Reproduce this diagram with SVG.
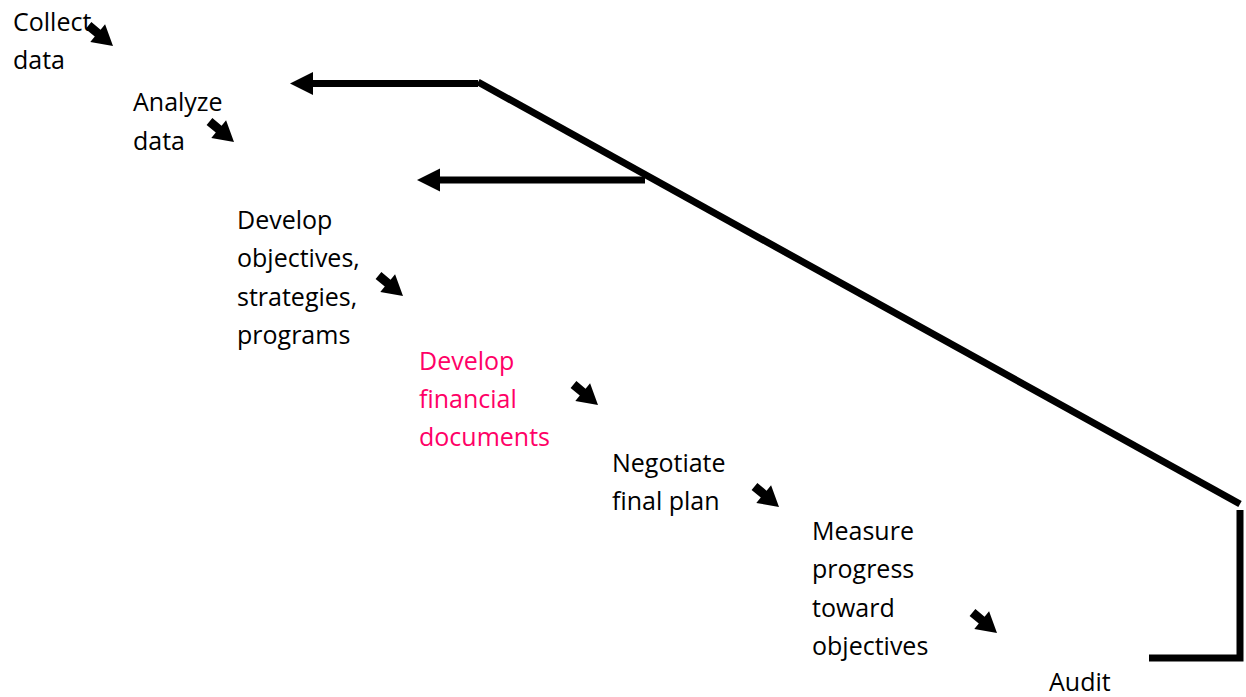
<svg xmlns="http://www.w3.org/2000/svg" width="1246" height="697" viewBox="0 0 1246 697">
<style>
.t{font-family:"Open Sans","Liberation Sans",sans-serif;font-size:25px;fill:#000}
.p{fill:#FF0066}
.ln{stroke:#000;stroke-width:7;fill:none;stroke-linecap:butt}
.ah{fill:#000}
</style>
<defs>
<path id="sa" d="M-32,-4.5 L-20,-4.5 L-20,-11.5 L0,0 L-20,11.5 L-20,4.5 L-32,4.5 Z"/>
</defs>
<rect width="1246" height="697" fill="#fff"/>
<g id="n1"><text class="t" x="13" y="31">Collect</text><text class="t" x="13" y="69">data</text></g>
<g id="n2"><text class="t" x="133" y="111">Analyze</text><text class="t" x="133" y="150">data</text></g>
<g id="n3"><text class="t" x="237" y="229">Develop</text><text class="t" x="237" y="267">objectives,</text><text class="t" x="237" y="306">strategies,</text><text class="t" x="237" y="344">programs</text></g>
<g id="n4"><text class="t p" x="419" y="370">Develop</text><text class="t p" x="419" y="408">financial</text><text class="t p" x="419" y="446">documents</text></g>
<g id="n5"><text class="t" x="612" y="472">Negotiate</text><text class="t" x="612" y="510">final plan</text></g>
<g id="n6"><text class="t" x="812" y="540">Measure</text><text class="t" x="812" y="578">progress</text><text class="t" x="812" y="617">toward</text><text class="t" x="812" y="655">objectives</text></g>
<g id="n7"><text class="t" x="1049" y="691">Audit</text></g>
<g id="connectors">
<use href="#sa" class="ah" transform="translate(113,46) rotate(40)"/>
<use href="#sa" class="ah" transform="translate(234,142) rotate(40)"/>
<use href="#sa" class="ah" transform="translate(403,296) rotate(40)"/>
<use href="#sa" class="ah" transform="translate(598,405) rotate(40)"/>
<use href="#sa" class="ah" transform="translate(779,507) rotate(40)"/>
<use href="#sa" class="ah" transform="translate(997,633) rotate(40)"/>
<line class="ln" x1="478" y1="83.5" x2="310" y2="83.5"/>
<polygon class="ah" points="290,83.5 313,72 313,95"/>
<line class="ln" x1="478" y1="82" x2="1240" y2="504"/>
<line class="ln" x1="645" y1="180" x2="435" y2="180"/>
<polygon class="ah" points="417,180 440,168.5 440,191.5"/>
<polyline class="ln" points="1240,510 1240,658 1149,658"/>
</g>
</svg>
